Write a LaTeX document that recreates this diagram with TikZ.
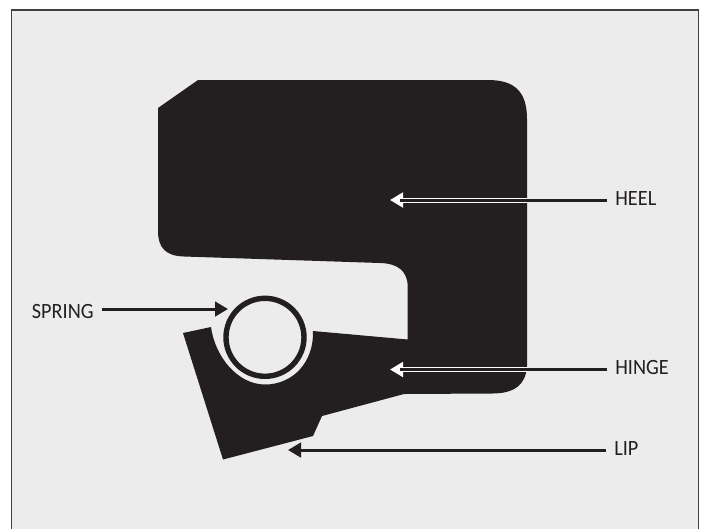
\documentclass[tikz,border=0pt]{standalone}
\usepackage{fontspec}
\setmainfont[FakeStretch=0.93]{Carlito}
\usepackage{xcolor}
\definecolor{SealBlack}{HTML}{231F20}
\definecolor{PanelGrey}{HTML}{ECECEC}
\definecolor{FrameGrey}{HTML}{404040}
\usetikzlibrary{arrows.meta}

\begin{document}
\begin{tikzpicture}[x=0.02cm,y=-0.02cm,
    every node/.style={font=\fontsize{12.4}{14}\selectfont,text=SealBlack,inner sep=0pt},
    leadline/.style={line width=0.6mm,SealBlack},
    blackhead/.style={-{Triangle[length=2.6mm,width=2.9mm]}},
    whitecase/.style={line width=1mm,white,-{Triangle[length=2.6mm,width=2.9mm]}}]
  \useasboundingbox (0,0) rectangle (706,529);
  % panel, open along the bottom edge
  \fill[PanelGrey] (11.5,529) -- (11.5,10) -- (698.5,10) -- (698.5,529) -- cycle;
  \draw[FrameGrey,line width=0.25mm] (11.5,529) -- (11.5,10) -- (698.5,10) -- (698.5,529);
  % seal section
  \fill[SealBlack] (198,80) -- (488,80)
     .. controls (515,80) and (527,92) .. (527,119)
     -- (527,366)
     .. controls (526,385) and (514,393.5) .. (492,393.5)
     -- (404,394) -- (322,416) -- (313,436) -- (223,459.5) -- (183,333) -- (211,327)
     .. controls (215,357) and (238,384.5) .. (265,384.5)
     .. controls (293,384.5) and (314,362) .. (313,331)
     -- (407.7,339.5) -- (407.7,287)
     .. controls (407.7,271) and (398,263.5) .. (380,263)
     -- (184,256.5)
     .. controls (166,256) and (158,248) .. (158,231)
     -- (158,108) -- cycle;
  % spring
  \draw[SealBlack,line width=1.08mm] (265,337.3) circle (39);
  % labels
  \node[anchor=west] (heel) at (615,198) {HEEL};
  \node[anchor=west] (hinge) at (615,367) {HINGE};
  \node[anchor=west] (lip) at (614,448.5) {LIP};
  \node[anchor=east] (spring) at (94,311) {SPRING};
  \coordinate (heeltip) at (390,200);
  \coordinate (heelstop) at (527,200);
  \coordinate (hingetip) at (390,369.5);
  \coordinate (hingestop) at (527,369.5);
  \coordinate (liptip) at (288,450);
  \coordinate (springtip) at (228,309);
  % leaders
  \draw[whitecase] (heelstop) -- (heeltip);
  \draw[leadline] ([xshift=-0.16cm]heel.west |- heeltip) -- ([xshift=0.2cm]heeltip);
  \draw[whitecase] (hingestop) -- (hingetip);
  \draw[leadline] ([xshift=-0.16cm]hinge.west |- hingetip) -- ([xshift=0.2cm]hingetip);
  \draw[leadline,blackhead] ([xshift=-0.16cm]lip.west |- liptip) -- (liptip);
  \draw[leadline,blackhead] ([xshift=0.16cm]spring.east |- springtip) -- (springtip);
\end{tikzpicture}
\end{document}
